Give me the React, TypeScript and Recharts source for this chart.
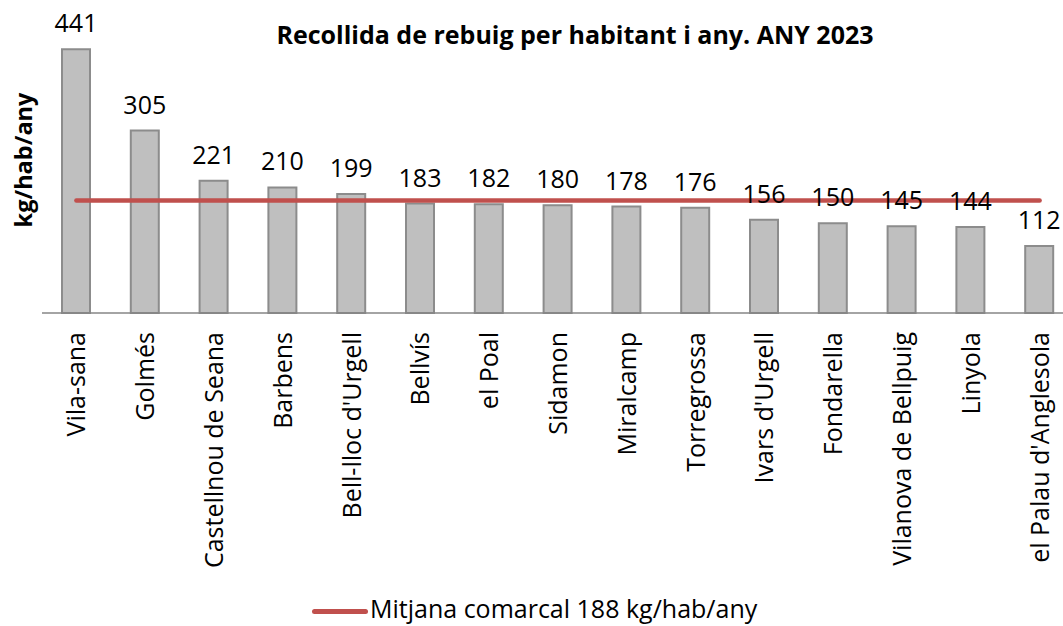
import React from 'react';
import { ComposedChart, Bar, Line, XAxis, YAxis, LabelList } from 'recharts';

const municipis = [
  'Vila-sana', 'Golmés', 'Castellnou de Seana', 'Barbens', "Bell-lloc d'Urgell",
  'Bellvís', 'el Poal', 'Sidamon', 'Miralcamp', 'Torregrossa', "Ivars d'Urgell",
  'Fondarella', 'Vilanova de Bellpuig', 'Linyola', "el Palau d'Anglesola",
];
const rebuig = [441, 305, 221, 210, 199, 183, 182, 180, 178, 176, 156, 150, 145, 144, 112];
const mitjanaComarcal = 188;

const data = municipis.map((nom, i) => ({ nom, valor: rebuig[i], mitjana: mitjanaComarcal }));

const FONT = '"Open Sans", "Noto Sans", sans-serif';
const RED = '#C0504D';

const RotatedTick = (props: any) => {
  const { x, y, payload } = props;
  return (
    <g transform={`translate(${x},${y + 11}) rotate(-90)`}>
      <text x={0} y={0} dy="0.36em" textAnchor="end" fill="#000" fontSize={25} fontFamily={FONT}>
        {payload.value}
      </text>
    </g>
  );
};

export default function App() {
  return (
    <div style={{ position: 'absolute', left: 0, top: 0, width: 1063, height: 626, overflow: 'hidden', background: '#fff', fontFamily: FONT }}>
      <ComposedChart width={1080} height={626} data={data} margin={{ top: 14, right: 6, bottom: 23, left: 42 }}>
        <XAxis
          dataKey="nom"
          interval={0}
          height={290}
          tickLine={false}
          axisLine={{ stroke: '#868686', strokeWidth: 1.5 }}
          tick={<RotatedTick />}
        />
        <YAxis hide domain={[0, 500]} />
        <Bar dataKey="valor" fill="#BFBFBF" stroke="#8C8C8C" strokeWidth={2} barSize={28} isAnimationActive={false}>
          <LabelList dataKey="valor" position="top" offset={17} fill="#000" fontSize={25} fontFamily={FONT} />
        </Bar>
        <Line dataKey="mitjana" stroke={RED} strokeWidth={4.5} strokeLinecap="round" dot={false} activeDot={false} isAnimationActive={false} />
      </ComposedChart>

      <div style={{ position: 'absolute', left: 0, width: 1150, top: 17, lineHeight: 'normal', textAlign: 'center', fontWeight: 700, fontSize: 25, color: '#000' }}>
        Recollida de rebuig per habitant i any. ANY 2023
      </div>

      <div style={{ position: 'absolute', left: 23, top: 160, transform: 'translate(-50%, -50%) rotate(-90deg)', whiteSpace: 'nowrap', fontWeight: 700, fontSize: 23.5, color: '#000' }}>
        kg/hab/any
      </div>

      <div style={{ position: 'absolute', left: 312, top: 609, width: 56, height: 5, borderRadius: 3, background: RED }} />
      <div style={{ position: 'absolute', left: 370, top: 591, lineHeight: 'normal', whiteSpace: 'nowrap', fontSize: 25, color: '#000' }}>
        Mitjana comarcal 188 kg/hab/any
      </div>
    </div>
  );
}
